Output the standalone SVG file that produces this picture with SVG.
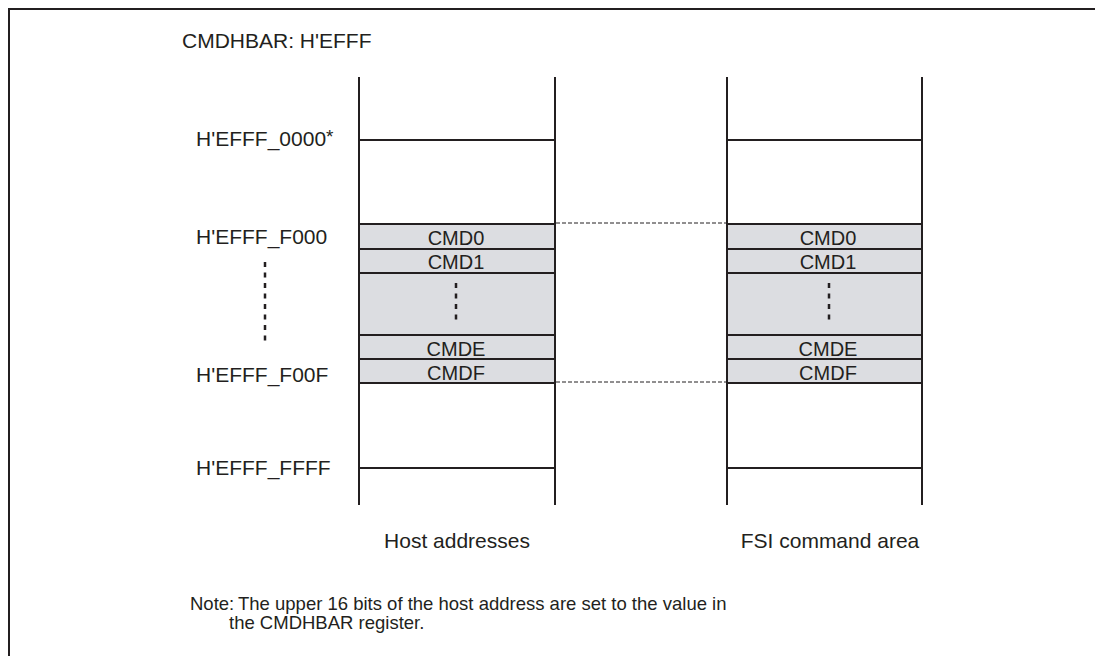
<svg xmlns="http://www.w3.org/2000/svg" width="1095" height="656" viewBox="0 0 1095 656">
<style>
text{font-family:"Liberation Sans",Arial,sans-serif;fill:#231f20;}
.lbl{font-size:21px;}
.cell{font-size:20px;text-anchor:middle;}
.cap{font-size:21px;text-anchor:middle;}
.note{font-size:18.5px;}
.ln{stroke:#231f20;stroke-width:2;fill:none;}
.band{fill:#dcdde1;stroke:#231f20;stroke-width:2;}
.dash{stroke:#231f20;stroke-width:1;stroke-dasharray:4 2;fill:none;}
.dots{stroke:#231f20;stroke-width:2.5;stroke-dasharray:5 5.5;fill:none;}
</style>
<g id="frame">
<line class="ln" x1="8" y1="9" x2="1095" y2="9"/>
<line class="ln" x1="9" y1="8" x2="9" y2="656"/>
</g>
<text class="lbl" x="182" y="48" font-size="20">CMDHBAR: H'EFFF</text>
<g id="labels">
<text class="lbl" x="196" y="146">H'EFFF_0000<tspan font-size="19" dy="-3">*</tspan></text>
<text class="lbl" x="196" y="244">H'EFFF_F000</text>
<text class="lbl" x="196" y="382">H'EFFF_F00F</text>
<text class="lbl" x="196" y="475">H'EFFF_FFFF</text>
<line class="dots" x1="265" y1="262" x2="265" y2="342"/>
</g>
<g id="host">
<rect class="band" x="359" y="224" width="196" height="25"/>
<rect class="band" x="359" y="249" width="196" height="24"/>
<rect class="band" x="359" y="273" width="196" height="62"/>
<rect class="band" x="359" y="335" width="196" height="24"/>
<rect class="band" x="359" y="359" width="196" height="24"/>
<line class="ln" x1="359" y1="77" x2="359" y2="505"/>
<line class="ln" x1="555" y1="77" x2="555" y2="505"/>
<line class="ln" x1="359" y1="140" x2="555" y2="140"/>
<line class="ln" x1="359" y1="468" x2="555" y2="468"/>
<text class="cell" x="456" y="245">CMD0</text>
<text class="cell" x="456" y="269">CMD1</text>
<line class="dots" x1="456" y1="283" x2="456" y2="320"/>
<text class="cell" x="456" y="356">CMDE</text>
<text class="cell" x="456" y="380">CMDF</text>
<text class="cap" x="457" y="548">Host addresses</text>
</g>
<g id="fsi">
<rect class="band" x="727" y="224" width="195" height="25"/>
<rect class="band" x="727" y="249" width="195" height="24"/>
<rect class="band" x="727" y="273" width="195" height="62"/>
<rect class="band" x="727" y="335" width="195" height="24"/>
<rect class="band" x="727" y="359" width="195" height="24"/>
<line class="ln" x1="727" y1="77" x2="727" y2="505"/>
<line class="ln" x1="922" y1="77" x2="922" y2="505"/>
<line class="ln" x1="727" y1="140" x2="922" y2="140"/>
<line class="ln" x1="727" y1="468" x2="922" y2="468"/>
<text class="cell" x="828" y="245">CMD0</text>
<text class="cell" x="828" y="269">CMD1</text>
<line class="dots" x1="829" y1="283" x2="829" y2="320"/>
<text class="cell" x="828" y="356">CMDE</text>
<text class="cell" x="828" y="380">CMDF</text>
<text class="cap" x="830" y="548">FSI command area</text>
</g>
<g id="connectors">
<line class="dash" x1="556" y1="223" x2="726" y2="223"/>
<line class="dash" x1="556" y1="382" x2="726" y2="382"/>
</g>
<text class="note" x="190" y="610">Note:<tspan x="238">The upper 16 bits of the host address are set to the value in</tspan></text>
<text class="note" x="229" y="629">the CMDHBAR register.</text>
</svg>
